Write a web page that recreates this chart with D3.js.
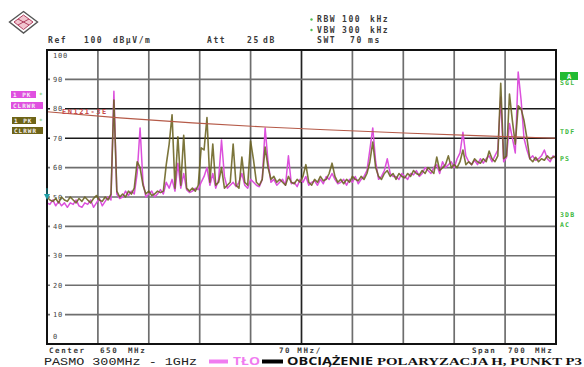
<!DOCTYPE html>
<html><head><meta charset="utf-8">
<script src="https://cdn.jsdelivr.net/npm/d3@7"></script>
<style>html,body{margin:0;padding:0;background:#fff;} svg{display:block;}</style>
</head><body><svg id="chart" width="584" height="367"></svg>
<script>
// Sweep: 300 MHz .. 1 GHz, one trace point every 4 MHz
const freqStart = 300;
const freqStep = 4;

// Trace 1: load (OBCIĄŻENIE), dBµV/m
const loadTrace = [
  50, 49, 48.5, 49.5, 48, 50, 49, 48.5, 50, 49,
  48, 49.5, 48.5, 50, 49, 48, 49.5, 50.5, 49, 48.5,
  50, 49, 51, 83, 52, 50, 51, 50, 52, 51,
  53, 62, 60, 54, 51, 52, 50.5, 51, 52, 51.5,
  52, 61, 68, 78, 53, 70.5, 54, 71, 53, 52,
  53, 52, 54, 66.7, 66, 77, 55, 68, 54, 55,
  60, 53, 54, 55, 68, 54, 53, 63.6, 55, 54,
  69, 62.6, 55, 54, 56, 67, 60, 56, 57, 55,
  56, 55, 54, 57, 55, 54.5, 56, 55, 57, 61,
  55, 54, 56, 55, 57, 55.5, 56, 58, 61.5, 57,
  55, 56, 54.5, 56, 55, 57, 56, 55.5, 57, 56,
  58, 62, 68.7, 60, 57, 56, 58, 59, 57, 58,
  56, 58, 57, 56.5, 58, 57, 59, 58, 57.5, 59,
  58, 60, 59, 58, 63.6, 59, 60, 61, 64, 60,
  61, 60, 62, 66, 61, 62, 61, 63, 62, 61.5,
  63, 62, 65.6, 63, 62, 64, 88.7, 63, 64, 85,
  76, 68, 81, 80, 76, 70, 63, 62, 63.5, 62,
  63, 62.5, 64, 63, 63.5, 64
];

// Trace 2: background (TŁO), dBµV/m
const backgroundTrace = [
  48, 47.5, 49, 47, 48.5, 47, 48, 46.5, 48, 47.5,
  49, 47, 46.5, 48, 47.5, 49, 46.5, 48, 49.5, 47,
  48.5, 50, 49, 86, 51, 49.5, 50, 52, 50.5, 52,
  51, 58, 73.5, 55, 50, 51, 52, 50, 51, 52.5,
  51, 55, 53, 56, 52, 61.5, 53, 58, 52.5, 51.5,
  52, 53, 52.5, 55, 57, 60, 54, 58, 53, 56,
  69.4, 57, 53, 54, 55, 53.5, 55, 58, 54, 53,
  56, 55, 54, 53.5, 56, 73.5, 62, 55, 56, 54,
  55, 56, 54, 64, 54.5, 55, 53.5, 56, 55, 57,
  54, 55, 55.5, 54, 56, 54.5, 57, 56, 58, 56,
  54.5, 55, 56, 54, 56, 55, 57, 54.5, 56, 57,
  59, 66, 73.5, 62, 56, 57, 59, 63, 58, 57,
  57, 56, 58, 57, 56, 58, 57.5, 59, 57, 58,
  60, 59, 58, 60, 61, 58, 62, 60, 61, 62,
  60, 63, 65, 72, 64, 62, 61, 62.5, 61, 63,
  61.5, 63, 64, 62, 64, 66, 84, 62, 63.5, 75,
  70, 65, 92.5, 83, 70, 66, 63, 64, 62.5, 63,
  64, 66, 63, 62, 64, 63
];

// Limit line
const limitFreqs = [300, 400, 500, 600, 700, 800, 900, 1000];
const limitValues = [79, 76.9, 75.2, 73.8, 72.7, 71.7, 70.8, 70.0];
const limitName = "EN121-3E";

// Axes
const levelTicks = [0, 10, 20, 30, 40, 50, 60, 70, 80, 90, 100];
const gridFreqs = [300, 370, 440, 510, 580, 650, 720, 790, 860, 930, 1000];
const darkLevelLines = [70, 80];
const darkFreqLines = [650];

// Instrument annotations
const headerLeft = [["Ref", 48], ["100", 84], ["dB\u00b5V/m", 113], ["Att", 207], ["25", 247], ["dB", 263]];
const headerRight = [
  [["RBW", 317], ["100", 342], ["kHz", 370]],
  [["VBW", 317], ["300", 342], ["kHz", 370]],
  [["SWT", 317], ["70", 350], ["ms", 368]]
];
const footer = [["Center", 49], ["650", 100], ["MHz", 128], ["70 MHz/", 279], ["Span", 472], ["700", 508], ["MHz", 535]];
const sideRight = [["SGL", 85], ["TDF", 134], ["PS", 161], ["3DB", 217], ["AC", 227]];
const caption = "PASMO 300MHz - 1GHz";
const legendBg = "T\u0141O";
const legendLoad = "OBCI\u0104\u017bENIE";
const captionTail = "POLARYZACJA H, PUNKT P3";

const svg = d3.select("#chart");
const x = d3.scaleLinear().domain([300, 1000]).range([47, 556]);
const y = d3.scaleLinear().domain([0, 100]).range([344, 50]);
const mono = "'DejaVu Sans Mono', monospace";

// Logo
const logo = svg.append("g");
logo.append("path").attr("d", "M23.5,11.5 L37.5,22 L23.5,33 L9.5,22 Z")
  .attr("fill", "#fff").attr("stroke", "#555").attr("stroke-width", 1.4);
logo.append("path").attr("d", "M23.5,15 L33,22 L23.5,29.5 L14,22 Z")
  .attr("fill", "#f2c6d0").attr("stroke", "#b04060").attr("stroke-width", 1);
logo.append("path").attr("d", "M18,19 L29,25 M18,25 L29,19").attr("stroke", "#b04060").attr("stroke-width", 1);

// Header text
const hdr = svg.append("g").attr("font-family", mono).attr("font-size", 8).attr("font-weight", "bold")
  .attr("fill", "#3a3a3a").attr("letter-spacing", 1.6);
headerLeft.forEach(([t, px]) => hdr.append("text").attr("x", px).attr("y", 43).text(t));
headerRight.forEach((row, r) => row.forEach(([t, px]) =>
  hdr.append("text").attr("x", px).attr("y", 22 + r * 10.5).text(t)));
[0, 1].forEach(r => svg.append("circle").attr("cx", 311.5).attr("cy", 19.5 + r * 10.5).attr("r", 1.2).attr("fill", "#50c050"));

// Grid
const grid = svg.append("g");
grid.selectAll("line.v").data(gridFreqs).join("line")
  .attr("x1", d => x(d)).attr("x2", d => x(d)).attr("y1", y(100)).attr("y2", y(0))
  .attr("stroke", d => darkFreqLines.includes(d) ? "#222" : "#6e6e6e").attr("stroke-width", 1.7);
grid.selectAll("line.h").data(levelTicks).join("line")
  .attr("x1", x(300)).attr("x2", x(1000)).attr("y1", d => y(d)).attr("y2", d => y(d))
  .attr("stroke", d => darkLevelLines.includes(d) ? "#1a1a1a" : "#6e6e6e").attr("stroke-width", 1.6);

// Level labels
const lab = svg.append("g").attr("font-family", mono).attr("font-size", 7).attr("fill", "#444").attr("letter-spacing", 0.8);
levelTicks.forEach(v => {
  let ly = y(v) + 2.5;
  if (v === 100) ly = y(v) + 8;
  if (v === 0) ly = y(v) - 5;
  if (v !== 100 && v !== 0) {
    lab.append("rect").attr("x", 50).attr("y", y(v) - 3).attr("width", 15).attr("height", 6).attr("fill", "#fff");
  }
  lab.append("text").attr("x", 53).attr("y", ly).text(v);
});

// Traces
const line = d3.line().x((d, i) => x(freqStart + i * freqStep)).y(d => y(d));
svg.append("path").datum(backgroundTrace).attr("d", line)
  .attr("fill", "none").attr("stroke", "#dc50dc").attr("stroke-width", 1.5).attr("stroke-linejoin", "round");
svg.append("path").datum(loadTrace).attr("d", line)
  .attr("fill", "none").attr("stroke", "#6a6220").attr("stroke-width", 1.6).attr("stroke-linejoin", "round").attr("opacity", 0.88);

// Limit line
const limitLine = d3.line().x((d, i) => x(limitFreqs[i])).y(d => y(d)).curve(d3.curveMonotoneX);
svg.append("path").datum(limitValues).attr("d", limitLine)
  .attr("fill", "none").attr("stroke", "#b55a48").attr("stroke-width", 1.1);
svg.append("text").attr("x", 62).attr("y", y(limitValues[0]) + 2)
  .attr("font-family", mono).attr("font-size", 7).attr("font-weight", "bold").attr("letter-spacing", 1.5)
  .attr("fill", "#c84848").text(limitName);

// Frame
svg.append("rect").attr("x", x(300)).attr("y", y(100)).attr("width", x(1000) - x(300)).attr("height", y(0) - y(100))
  .attr("fill", "none").attr("stroke", "#111").attr("stroke-width", 2);

// Reference marker
svg.append("path").attr("d", `M44,${y(51)} L50,${y(51)} L47,${y(49)} Z`).attr("fill", "#20a0a8");
svg.append("line").attr("x1", 47).attr("x2", 47).attr("y1", y(53)).attr("y2", y(51)).attr("stroke", "#20a0a8").attr("stroke-width", 1);

// Trace tags on the left
const tagFont = svg.append("g").attr("font-family", mono).attr("font-size", 6).attr("font-weight", "bold").attr("letter-spacing", 1);
function tag(x0, y0, w, col, t) {
  tagFont.append("rect").attr("x", x0).attr("y", y0).attr("width", w).attr("height", 7).attr("fill", col);
  tagFont.append("text").attr("x", x0 + 2).attr("y", y0 + 5.5).attr("fill", "#f4f0f4").text(t);
}
tag(11, 91, 25, "#e050e0", "1 PK");
tag(11, 102, 32, "#e050e0", "CLRWR");
tag(12, 117, 24, "#6e6418", "1 PK");
tag(12, 127, 31, "#6e6418", "CLRWR");
[94.5, 120.5].forEach(cy => svg.append("text").attr("x", 39).attr("y", cy + 2).attr("font-size", 6)
  .attr("font-family", mono).attr("fill", "#50c050").text("*"));

// Status on the right
svg.append("rect").attr("x", 560).attr("y", 72).attr("width", 18).attr("height", 8).attr("fill", "#22bb33");
svg.append("text").attr("x", 569).attr("y", 78.5).attr("text-anchor", "middle").attr("font-family", mono)
  .attr("font-size", 7).attr("font-weight", "bold").attr("fill", "#fff").text("A");
const side = svg.append("g").attr("font-family", mono).attr("font-size", 6.5).attr("font-weight", "bold")
  .attr("fill", "#40b840").attr("letter-spacing", 1.2);
sideRight.forEach(([t, py]) => side.append("text").attr("x", 560).attr("y", py).text(t));

// Footer
const ft = svg.append("g").attr("font-family", mono).attr("font-size", 7.5).attr("font-weight", "bold")
  .attr("fill", "#3a3a3a").attr("letter-spacing", 1.6);
footer.forEach(([t, px]) => ft.append("text").attr("x", px).attr("y", 352.5).text(t));

// Caption and legend
svg.append("text").attr("x", 44).attr("y", 364.5).attr("font-family", "'Liberation Mono', monospace")
  .attr("font-size", 11).attr("fill", "#222").attr("textLength", 153).attr("lengthAdjust", "spacingAndGlyphs").text(caption);
svg.append("line").attr("x1", 209).attr("x2", 228).attr("y1", 361.5).attr("y2", 361.5).attr("stroke", "#f07cf0").attr("stroke-width", 4);
svg.append("text").attr("x", 233).attr("y", 365).attr("font-family", "'Open Sans', sans-serif").attr("font-weight", "bold")
  .attr("font-size", 10.5).attr("fill", "#f07cf0").attr("textLength", 27).attr("lengthAdjust", "spacingAndGlyphs").text(legendBg);
svg.append("line").attr("x1", 262).attr("x2", 283).attr("y1", 361.5).attr("y2", 361.5).attr("stroke", "#000").attr("stroke-width", 4);
svg.append("text").attr("x", 287).attr("y", 365).attr("font-family", "'Open Sans', sans-serif").attr("font-weight", "bold")
  .attr("font-size", 10.5).attr("fill", "#111").attr("textLength", 86).attr("lengthAdjust", "spacingAndGlyphs").text(legendLoad);
svg.append("text").attr("x", 377).attr("y", 365).attr("font-family", "'Liberation Serif', serif").attr("font-weight", "bold")
  .attr("font-size", 10.5).attr("fill", "#111").attr("textLength", 205).attr("lengthAdjust", "spacingAndGlyphs").text(captionTail);
</script></body></html>
